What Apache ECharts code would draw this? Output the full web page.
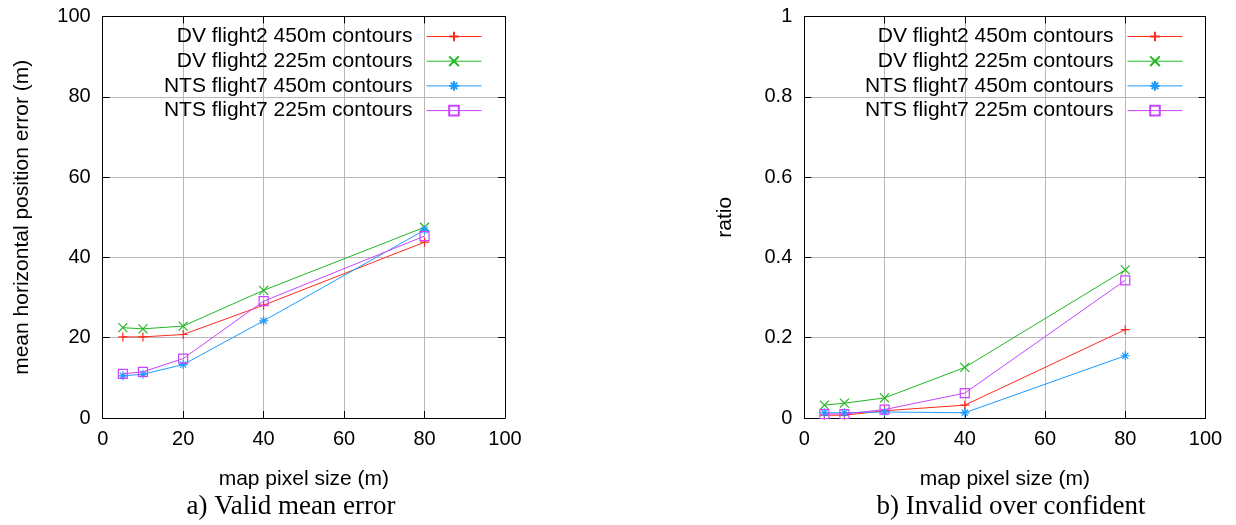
<!DOCTYPE html>
<html>
<head>
<meta charset="utf-8">
<script src="https://cdn.jsdelivr.net/npm/echarts@6/dist/echarts.min.js"></script>
<style>
html,body{margin:0;padding:0;background:#fff;}
#chart{width:1236px;height:525px;}
</style>
</head>
<body>
<div id="chart"></div>
<script>
// ---- data ----
var pixelSizes = [5, 10, 20, 40, 80];
var seriesNames = ['DV flight2 450m contours', 'DV flight2 225m contours', 'NTS flight7 450m contours', 'NTS flight7 225m contours'];
var meanErrDV450 = [20.2, 20.2, 20.8, 28.1, 43.8];
var meanErrDV225 = [22.5, 22.2, 22.9, 31.8, 47.5];
var meanErrNTS450 = [10.5, 10.9, 13.3, 24.2, 46.8];
var meanErrNTS225 = [11.0, 11.5, 14.8, 29.1, 45.3];
var ratioDV450 = [0.007, 0.007, 0.018, 0.032, 0.220];
var ratioDV225 = [0.032, 0.037, 0.050, 0.126, 0.369];
var ratioNTS450 = [0.013, 0.013, 0.015, 0.013, 0.155];
var ratioNTS225 = [0.010, 0.010, 0.021, 0.062, 0.343];
var xTicks = [0, 20, 40, 60, 80, 100];
var leftYTicks = [0, 20, 40, 60, 80, 100];
var rightYTicks = [0, 0.2, 0.4, 0.6, 0.8, 1];
var leftYTitle = 'mean horizontal position error (m)';
var rightYTitle = 'ratio';
var xTitle = 'map pixel size (m)';
var leftCaption = 'a) Valid mean error';
var rightCaption = 'b) Invalid over confident';

// ---- styles ----
var colors = ['#ff2a1c', '#22b822', '#1e9bff', '#c844ff'];
var symbols = [
  'path://M0,5L10,5M5,0L5,10',
  'path://M0,0L10,10M10,0L0,10',
  'path://M0,5L10,5M5,0L5,10M1.6,1.6L8.4,8.4M8.4,1.6L1.6,8.4',
  'path://M0,0L10,0L10,10L0,10Z'
];
var FONT = 'Liberation Sans';

function pairs(vals) {
  return pixelSizes.map(function (x, i) { return [x, vals[i]]; });
}

function mkSeries(idx, vals, axisIdx) {
  return {
    type: 'line',
    name: seriesNames[idx],
    xAxisIndex: axisIdx * 2,
    yAxisIndex: axisIdx * 2,
    data: pairs(vals),
    symbol: symbols[idx],
    symbolSize: 9,
    showAllSymbol: true,
    animation: false,
    lineStyle: { color: colors[idx], width: 1 },
    itemStyle: { color: 'rgba(0,0,0,0)', borderColor: colors[idx], borderWidth: 1.2 },
    emphasis: { disabled: true },
    z: 3 + idx
  };
}

function xAxes(gridIndex) {
  return [{
    type: 'value', gridIndex: gridIndex, position: 'bottom',
    min: xTicks[0], max: xTicks[xTicks.length - 1], interval: 20,
    name: xTitle, nameLocation: 'middle', nameGap: 51,
    nameTextStyle: { fontFamily: FONT, fontSize: 21, color: '#000' },
    axisLine: { show: true, onZero: false, lineStyle: { color: '#000', width: 1 } },
    axisTick: { show: true, inside: true, length: 7, lineStyle: { color: '#000' } },
    axisLabel: { fontFamily: FONT, fontSize: 20, color: '#000', margin: 11 },
    splitLine: { show: true, lineStyle: { color: '#b8b8b8', width: 1 } }
  }, {
    type: 'value', gridIndex: gridIndex, position: 'top',
    min: xTicks[0], max: xTicks[xTicks.length - 1], interval: 20,
    axisLine: { show: true, onZero: false, lineStyle: { color: '#000', width: 1 } },
    axisTick: { show: true, inside: true, length: 7, lineStyle: { color: '#000' } },
    axisLabel: { show: false },
    splitLine: { show: false }
  }];
}

function yAxes(gridIndex, ticks, title, nameGap) {
  var interval = ticks[1] - ticks[0];
  return [{
    type: 'value', gridIndex: gridIndex, position: 'left',
    min: ticks[0], max: ticks[ticks.length - 1], interval: interval,
    name: title, nameLocation: 'middle', nameGap: nameGap,
    nameTextStyle: { fontFamily: FONT, fontSize: 21, color: '#000' },
    axisLine: { show: true, onZero: false, lineStyle: { color: '#000', width: 1 } },
    axisTick: { show: true, inside: true, length: 7, lineStyle: { color: '#000' } },
    axisLabel: { fontFamily: FONT, fontSize: 20, color: '#000', margin: 12 },
    splitLine: { show: true, lineStyle: { color: '#b8b8b8', width: 1 } }
  }, {
    type: 'value', gridIndex: gridIndex, position: 'right',
    min: ticks[0], max: ticks[ticks.length - 1], interval: interval,
    axisLine: { show: true, onZero: false, lineStyle: { color: '#000', width: 1 } },
    axisTick: { show: true, inside: true, length: 7, lineStyle: { color: '#000' } },
    axisLabel: { show: false },
    splitLine: { show: false }
  }];
}

function mkLegend(right) {
  return {
    orient: 'vertical',
    align: 'right',
    right: right,
    top: 21,
    itemWidth: 55,
    itemHeight: 12,
    itemGap: 3.7,
    data: seriesNames,
    textStyle: { fontFamily: FONT, fontSize: 21, color: '#000', lineHeight: 21, padding: [0, 9, 0, 0] },
    lineStyle: { width: 1 },
    selectedMode: false
  };
}

var chart = echarts.init(document.getElementById('chart'), null, { renderer: 'canvas' });
var option = {
  backgroundColor: '#fff',
  animation: false,
  grid: [
    { left: 102.7, top: 16.5, width: 402.3, height: 401.5, containLabel: false },
    { left: 804.3, top: 16.5, width: 401.2, height: 401.5, containLabel: false }
  ],
  xAxis: xAxes(0).concat(xAxes(1)),
  yAxis: yAxes(0, leftYTicks, leftYTitle, 70).concat(yAxes(1, rightYTicks, rightYTitle, 69)),
  legend: [mkLegend(749), mkLegend(48)],
  series: [
    mkSeries(0, meanErrDV450, 0),
    mkSeries(1, meanErrDV225, 0),
    mkSeries(2, meanErrNTS450, 0),
    mkSeries(3, meanErrNTS225, 0),
    mkSeries(0, ratioDV450, 1),
    mkSeries(1, ratioDV225, 1),
    mkSeries(2, ratioNTS450, 1),
    mkSeries(3, ratioNTS225, 1)
  ],
  graphic: [
    { type: 'text', x: 291, y: 507, style: { text: leftCaption, font: '27px "Liberation Serif"', fill: '#000', textAlign: 'center', textVerticalAlign: 'middle' } },
    { type: 'text', x: 1011, y: 507, style: { text: rightCaption, font: '27px "Liberation Serif"', fill: '#000', textAlign: 'center', textVerticalAlign: 'middle' } }
  ]
};
chart.setOption(option);
</script>
</body>
</html>
